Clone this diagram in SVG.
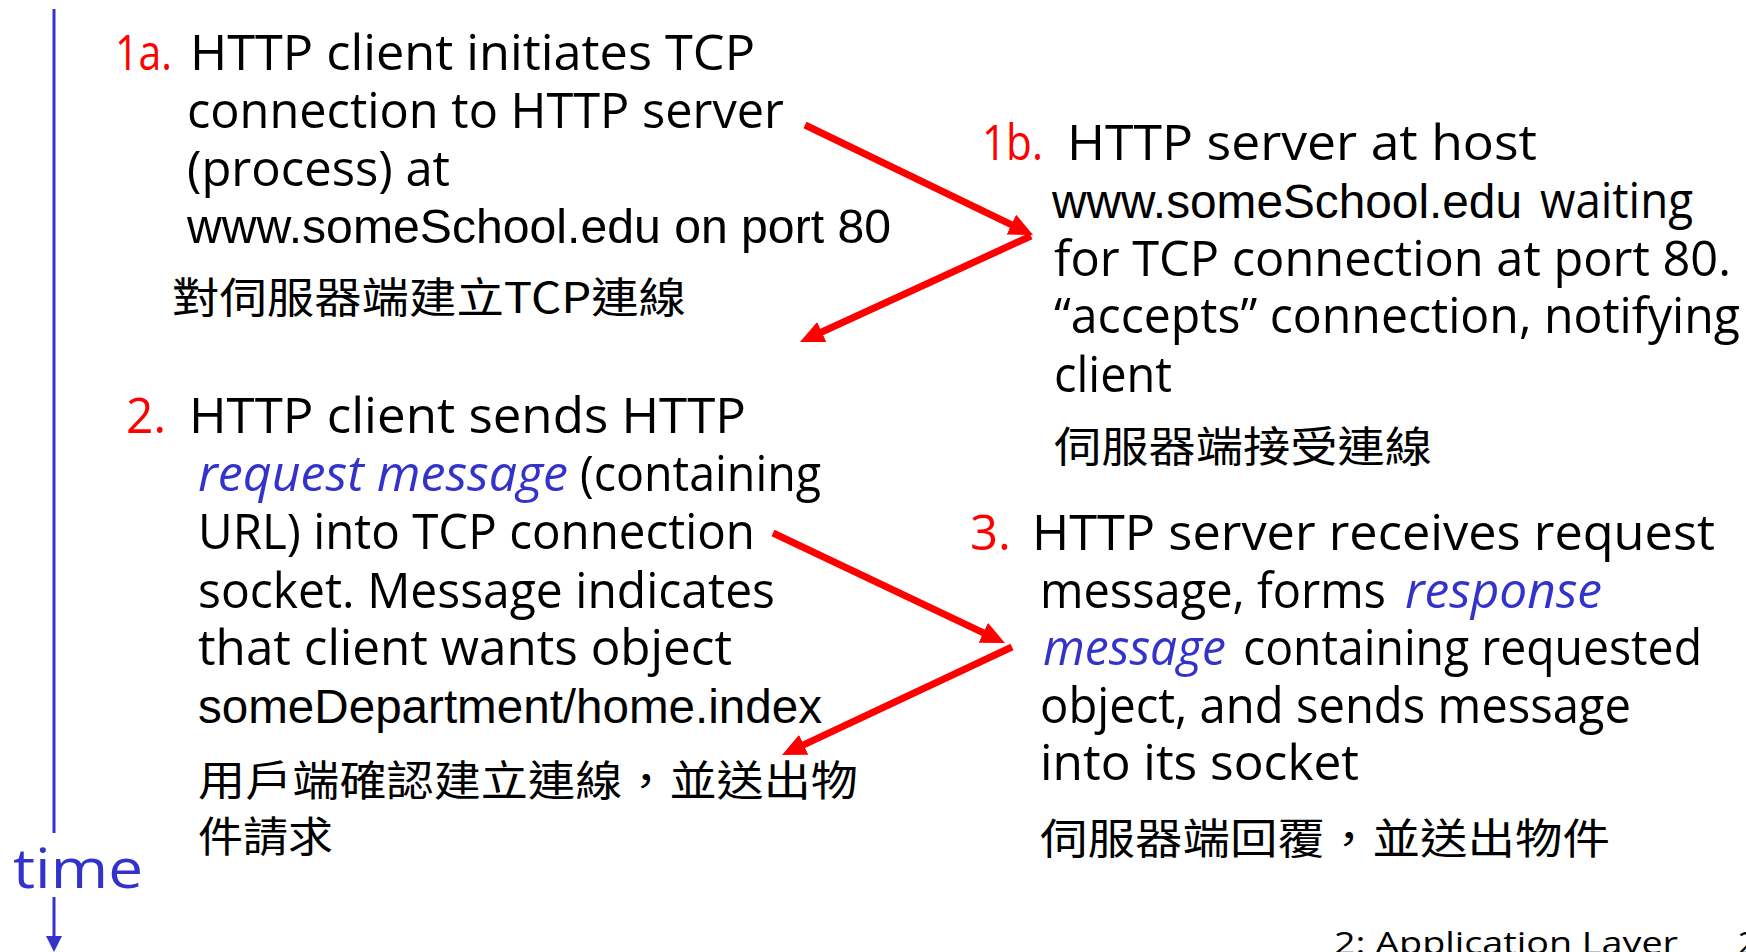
<svg xmlns="http://www.w3.org/2000/svg" width="1746" height="952" viewBox="0 0 1746 952">
<style>
.t{font-family:"Open Sans","Noto Sans",sans-serif;font-size:50px;fill:#000}
.a{font-family:"Liberation Sans",Arial,sans-serif;font-size:48px;fill:#000}
.r{fill:#ff0000}
.bi{fill:#3333cc;font-style:italic}
.cj{font-family:"Noto Sans CJK TC","Noto Sans CJK SC",sans-serif;font-size:42px;fill:#000}
.ft{font-family:"Open Sans","Noto Sans",sans-serif;font-size:31px;fill:#000}
.arrow{stroke:#ff0000;stroke-width:7;fill:none;marker-end:url(#head)}
</style>
<defs>
<marker id="head" markerUnits="userSpaceOnUse" markerWidth="24" markerHeight="22" refX="9" refY="11" orient="auto">
<path d="M0,0 L24,11 L0,22 z" fill="#ff0000"/>
</marker>
<marker id="bhead" markerUnits="userSpaceOnUse" markerWidth="16" markerHeight="16" refX="8" refY="8" orient="auto">
<path d="M0,0 L16,8 L0,16 z" fill="#3333cc"/>
</marker>
</defs>
<rect width="1746" height="952" fill="#fff"/>
<g id="timeline">
<line x1="54" y1="9" x2="54" y2="833" stroke="#3333cc" stroke-width="3"/>
<text x="13" y="888" class="t" style="font-size:54px;fill:#3333cc" textLength="130" lengthAdjust="spacingAndGlyphs">time</text>
<line x1="54" y1="897" x2="54" y2="944" stroke="#3333cc" stroke-width="3" marker-end="url(#bhead)"/>
</g>
<g id="node-1a">
<text x="115" y="70" class="t r" textLength="57" lengthAdjust="spacingAndGlyphs">1a.</text>
<text x="190" y="70" class="t" textLength="565" lengthAdjust="spacingAndGlyphs">HTTP client initiates TCP</text>
<text x="187" y="128" class="t" textLength="597" lengthAdjust="spacingAndGlyphs">connection to HTTP server</text>
<text x="187" y="186" class="t" textLength="263" lengthAdjust="spacingAndGlyphs">(process) at</text>
<text x="187" y="243" class="a" textLength="704" lengthAdjust="spacingAndGlyphs">www.someSchool.edu on port 80</text>
<text x="172" y="313" class="cj" textLength="514" lengthAdjust="spacingAndGlyphs">對伺服器端建立TCP連線</text>
</g>
<g id="node-1b">
<text x="982" y="160" class="t r" textLength="61" lengthAdjust="spacingAndGlyphs">1b.</text>
<text x="1067" y="160" class="t" textLength="470" lengthAdjust="spacingAndGlyphs">HTTP server at host</text>
<text x="1052" y="218" class="a" textLength="470" lengthAdjust="spacingAndGlyphs">www.someSchool.edu</text>
<text x="1540" y="218" class="t" textLength="153" lengthAdjust="spacingAndGlyphs">waiting</text>
<text x="1054" y="276" class="t" textLength="677" lengthAdjust="spacingAndGlyphs">for TCP connection at port 80.</text>
<text x="1054" y="333" class="t" textLength="686" lengthAdjust="spacingAndGlyphs">“accepts” connection, notifying</text>
<text x="1054" y="392" class="t" textLength="118" lengthAdjust="spacingAndGlyphs">client</text>
<text x="1054" y="462" class="cj" textLength="378" lengthAdjust="spacingAndGlyphs">伺服器端接受連線</text>
</g>
<g id="node-2">
<text x="126" y="433" class="t r" textLength="40" lengthAdjust="spacingAndGlyphs">2.</text>
<text x="189" y="433" class="t" textLength="557" lengthAdjust="spacingAndGlyphs">HTTP client sends HTTP</text>
<text x="198" y="491" class="t bi" textLength="370" lengthAdjust="spacingAndGlyphs">request message</text>
<text x="580" y="491" class="t" textLength="241" lengthAdjust="spacingAndGlyphs">(containing</text>
<text x="198" y="549" class="t" textLength="557" lengthAdjust="spacingAndGlyphs">URL) into TCP connection</text>
<text x="198" y="608" class="t" textLength="577" lengthAdjust="spacingAndGlyphs">socket. Message indicates</text>
<text x="198" y="665" class="t" textLength="534" lengthAdjust="spacingAndGlyphs">that client wants object</text>
<text x="198" y="723" class="a" textLength="624" lengthAdjust="spacingAndGlyphs">someDepartment/home.index</text>
<text x="198" y="796" class="cj" textLength="660" lengthAdjust="spacingAndGlyphs">用戶端確認建立連線，並送出物</text>
<text x="198" y="852" class="cj" textLength="135" lengthAdjust="spacingAndGlyphs">件請求</text>
</g>
<g id="node-3">
<text x="970" y="550" class="t r" textLength="41" lengthAdjust="spacingAndGlyphs">3.</text>
<text x="1032" y="550" class="t" textLength="683" lengthAdjust="spacingAndGlyphs">HTTP server receives request</text>
<text x="1040" y="608" class="t" textLength="346" lengthAdjust="spacingAndGlyphs">message, forms</text>
<text x="1405" y="608" class="t bi" textLength="197" lengthAdjust="spacingAndGlyphs">response</text>
<text x="1043" y="665" class="t bi" textLength="183" lengthAdjust="spacingAndGlyphs">message</text>
<text x="1243" y="665" class="t" textLength="459" lengthAdjust="spacingAndGlyphs">containing requested</text>
<text x="1040" y="723" class="t" textLength="591" lengthAdjust="spacingAndGlyphs">object, and sends message</text>
<text x="1040" y="780" class="t" textLength="319" lengthAdjust="spacingAndGlyphs">into its socket</text>
<text x="1040" y="854" class="cj" textLength="570" lengthAdjust="spacingAndGlyphs">伺服器端回覆，並送出物件</text>
</g>
<g id="footer">
<text x="1334" y="954" class="ft" textLength="344" lengthAdjust="spacingAndGlyphs">2: Application Layer</text>
<text x="1738" y="954" class="ft">2</text>
</g>
<g id="connectors">
<line class="arrow" x1="805" y1="125" x2="1019.5" y2="228.5"/>
<line class="arrow" x1="1031" y1="236" x2="813.6" y2="335.7"/>
<line class="arrow" x1="773" y1="533" x2="991.4" y2="636.6"/>
<line class="arrow" x1="1012" y1="647" x2="795.6" y2="748.6"/>
</g>
</svg>
